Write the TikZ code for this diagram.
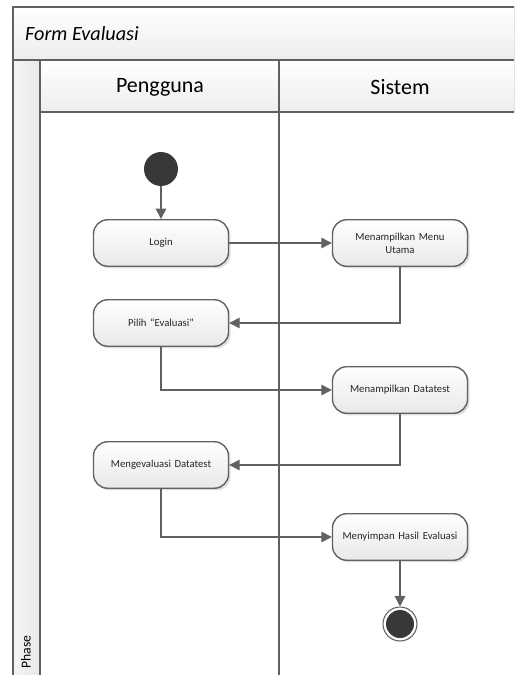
\documentclass[tikz,border=0pt]{standalone}
\usepackage{fontspec}
\setmainfont{Carlito}
\usetikzlibrary{arrows.meta,shadows}

\begin{document}
\begin{tikzpicture}[x=0.02cm,y=-0.02cm,
    garis/.style={draw=black!62,line width=1.1pt},
    aksi/.style={draw=black!62,line width=.8pt,rounded corners=8pt,
      minimum width=2.7cm,minimum height=0.93cm,text width=2.4cm,align=center,
      top color=white,bottom color=black!9,
      drop shadow={opacity=.25,shadow xshift=1.2pt,shadow yshift=-1.2pt},
      font=\fontsize{6.1}{7.3}\selectfont,text=black!85},
    awal/.style={circle,fill=black!78,minimum size=0.68cm,inner sep=0pt},
    akhir/.style={circle,draw=black!62,line width=.6pt,fill=white,minimum size=0.68cm,inner sep=0pt,
      path picture={\fill[black!78] (path picture bounding box.center) circle (0.28cm);}},
    alur/.style={draw=black!62,line width=.8pt,-{Triangle[length=6pt,width=6pt]}}]
  \useasboundingbox (0,0) rectangle (514,675);
  \begin{scope}
    \clip (0,0) rectangle (514,675);
    \fill[top color=white,bottom color=black!7] (13,7) rectangle (530,60);
    \fill[top color=white,bottom color=black!7] (40,60) rectangle (530,112);
    \fill[left color=black!4,right color=black!9] (13,60) rectangle (40,700);
    \draw[garis] (13,700) -- (13,7) -- (530,7);
    \draw[garis] (13,60) -- (530,60);
    \draw[garis] (40,60) -- (40,700);
    \draw[garis] (40,112) -- (530,112);
    \draw[garis] (279,60) -- (279,700);
  \end{scope}
  \node[anchor=west,font=\itshape\fontsize{11.5}{13}\selectfont] (judul) at (19,34) {Form Evaluasi};
  \node[font=\fontsize{12.5}{14}\selectfont] (pengguna) at (160,87) {Pengguna};
  \node[font=\fontsize{12.5}{14}\selectfont] (sistem) at (400,87) {Sistem};
  \node[anchor=west,rotate=90,font=\fontsize{7.8}{9}\selectfont] (fase) at (26,675) {Phase};

  \node[awal] (mulai) at (161,169) {};
  \node[aksi] (login) at (161,243) {Login};
  \node[aksi] (menu) at (400,243) {Menampilkan Menu\\ Utama};
  \node[aksi] (pilih) at (161,323) {Pilih ``Evaluasi''};
  \node[aksi] (tampil) at (400,390) {Menampilkan Datatest};
  \node[aksi] (evaluasi) at (161,465) {Mengevaluasi Datatest};
  \node[aksi] (simpan) at (400,537) {Menyimpan Hasil Evaluasi};
  \node[akhir] (selesai) at (400,624) {};

  \draw[alur] (mulai) -- (login);
  \draw[alur] (login) -- (menu);
  \draw[alur] (menu.south) |- (pilih.east);
  \draw[alur] (pilih.south) |- (tampil.west);
  \draw[alur] (tampil.south) |- (evaluasi.east);
  \draw[alur] (evaluasi.south) |- (simpan.west);
  \draw[alur] (simpan) -- (selesai);
\end{tikzpicture}
\end{document}
